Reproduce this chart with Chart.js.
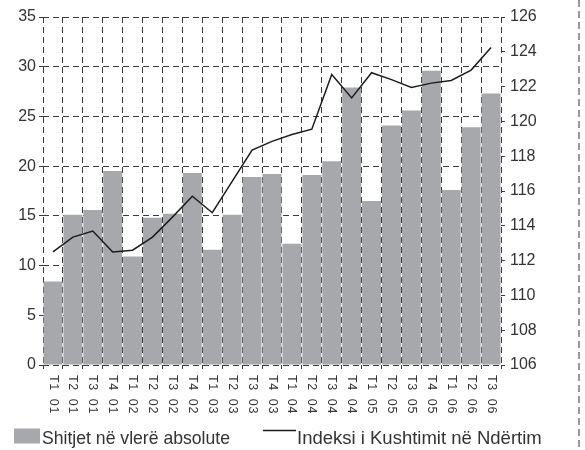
<!DOCTYPE html>
<html>
<head>
<meta charset="utf-8">
<script src="https://cdn.jsdelivr.net/npm/chart.js@4/dist/chart.umd.min.js"></script>
<style>
  html, body { margin: 0; padding: 0; background: #ffffff; }
  #wrap { position: relative; width: 585px; height: 450px; }
  canvas { display: block; }
</style>
</head>
<body>
<div id="wrap"><canvas id="chart" width="585" height="450"></canvas></div>
<script>
// Quarters (T = tremujori) and years
const categories = [
  'T1 01', 'T2 01', 'T3 01', 'T4 01',
  'T1 02', 'T2 02', 'T3 02', 'T4 02',
  'T1 03', 'T2 03', 'T3 03', 'T4 03',
  'T1 04', 'T2 04', 'T3 04', 'T4 04',
  'T1 05', 'T2 05', 'T3 05', 'T4 05',
  'T1 06', 'T2 06', 'T3 06'
];

// Sales in absolute value (left axis)
const salesValues = [
  8.4, 15.1, 15.6, 19.5,
  10.9, 14.8, 15.2, 19.3,
  11.6, 15.1, 18.9, 19.2,
  12.2, 19.1, 20.5, 27.9,
  16.5, 24.1, 25.6, 29.6,
  17.6, 23.9, 27.3
];

// Construction cost index (right axis)
const costIndex = [
  112.5, 113.35, 113.7, 112.5,
  112.6, 113.35, 114.5, 115.7,
  114.75, 116.55, 118.35, 118.85,
  119.25, 119.55, 122.7, 121.35,
  122.8, 122.4, 121.95, 122.2,
  122.35, 122.95, 124.25
];

const seriesNames = ['Shitjet në vlerë absolute', 'Indeksi i Kushtimit në Ndërtim'];

// Axis ranges
const leftAxis = { min: 0, max: 35, step: 5 };
const rightAxis = { min: 106, max: 126, step: 2 };

const BAR_COLOR = '#a7a8ac';
const LINE_COLOR = '#1c1c1c';
const GRID_COLOR = '#3a3a3a';
const TEXT_COLOR = '#333333';
const DASH = [6, 4];
const FONT = '"Liberation Sans", Arial, sans-serif';

// Rotated quarter labels below the category axis (read top to bottom)
const quarterLabels = {
  id: 'quarterLabels',
  afterDraw(chart) {
    const ctx = chart.ctx;
    const xs = chart.scales.x;
    ctx.save();
    ctx.fillStyle = TEXT_COLOR;
    ctx.font = '12.5px ' + FONT;
    ctx.textAlign = 'left';
    ctx.textBaseline = 'middle';
    try { ctx.letterSpacing = '0.6px'; ctx.wordSpacing = '4px'; } catch (e) {}
    const top = chart.chartArea.bottom + 10;
    chart.data.labels.forEach((lbl, i) => {
      const x = xs.getPixelForTick(i);
      ctx.save();
      ctx.translate(x, top);
      ctx.rotate(Math.PI / 2);
      ctx.fillText(lbl, 0, 0);
      ctx.restore();
    });
    ctx.restore();
  }
};

// Legend row along the bottom and the dashed page edge on the right
const bottomLegend = {
  id: 'bottomLegend',
  afterDraw(chart) {
    const ctx = chart.ctx;
    const ds = chart.data.datasets;
    const bars = ds.find(d => d.type === 'bar');
    const line = ds.find(d => d.type === 'line');
    ctx.save();
    ctx.fillStyle = bars.backgroundColor;
    ctx.fillRect(14, 428.5, 26, 15);
    ctx.fillStyle = TEXT_COLOR;
    ctx.font = '18.5px ' + FONT;
    ctx.textAlign = 'left';
    ctx.textBaseline = 'alphabetic';
    ctx.fillText(bars.label, 42, 444, 188);
    ctx.strokeStyle = line.borderColor;
    ctx.lineWidth = 1.3;
    ctx.beginPath();
    ctx.moveTo(263, 430.5);
    ctx.lineTo(296, 430.5);
    ctx.stroke();
    ctx.fillText(line.label, 297, 444, 250);

    ctx.strokeStyle = '#777777';
    ctx.lineWidth = 1.5;
    ctx.setLineDash([7, 4]);
    ctx.beginPath();
    ctx.moveTo(579, 0);
    ctx.lineTo(579, 450);
    ctx.stroke();
    ctx.restore();
  }
};

new Chart(document.getElementById('chart'), {
  data: {
    labels: categories,
    datasets: [
      {
        type: 'line',
        label: seriesNames[1],
        data: costIndex,
        yAxisID: 'y1',
        borderColor: LINE_COLOR,
        borderWidth: 1.5,
        pointRadius: 0,
        tension: 0,
        fill: false,
        order: 0
      },
      {
        type: 'bar',
        label: seriesNames[0],
        data: salesValues,
        yAxisID: 'y',
        backgroundColor: BAR_COLOR,
        borderWidth: 0,
        barPercentage: 0.95,
        categoryPercentage: 1.0,
        order: 1
      }
    ]
  },
  options: {
    responsive: false,
    animation: false,
    layout: { padding: { top: 17, left: 0, right: 0, bottom: 0 } },
    plugins: {
      legend: { display: false },
      tooltip: { enabled: false }
    },
    scales: {
      x: {
        type: 'category',
        offset: true,
        grid: {
          display: true,
          offset: true,
          color: GRID_COLOR,
          lineWidth: 1,
          drawTicks: true,
          tickLength: 4,
          tickColor: GRID_COLOR,
          tickBorderDash: []
        },
        border: { display: false, color: GRID_COLOR, dash: DASH },
        ticks: { display: false },
        afterFit(scale) { scale.height = 85; }
      },
      y: {
        position: 'left',
        min: leftAxis.min,
        max: leftAxis.max,
        ticks: {
          stepSize: leftAxis.step,
          color: TEXT_COLOR,
          font: { family: FONT, size: 16 },
          padding: 3
        },
        grid: {
          color: GRID_COLOR,
          lineWidth: 1,
          tickLength: 4,
          tickColor: GRID_COLOR,
          tickBorderDash: []
        },
        border: { display: false, color: GRID_COLOR, dash: DASH },
        afterFit(scale) { scale.width = 43; }
      },
      y1: {
        position: 'right',
        min: rightAxis.min,
        max: rightAxis.max,
        ticks: {
          stepSize: rightAxis.step,
          color: TEXT_COLOR,
          font: { family: FONT, size: 16 },
          padding: 5
        },
        grid: {
          drawOnChartArea: false,
          color: GRID_COLOR,
          tickLength: 4,
          tickColor: GRID_COLOR,
          tickBorderDash: []
        },
        border: { display: false, color: GRID_COLOR, dash: DASH },
        afterFit(scale) { scale.width = 84; }
      }
    }
  },
  plugins: [quarterLabels, bottomLegend]
});
</script>
</body>
</html>
